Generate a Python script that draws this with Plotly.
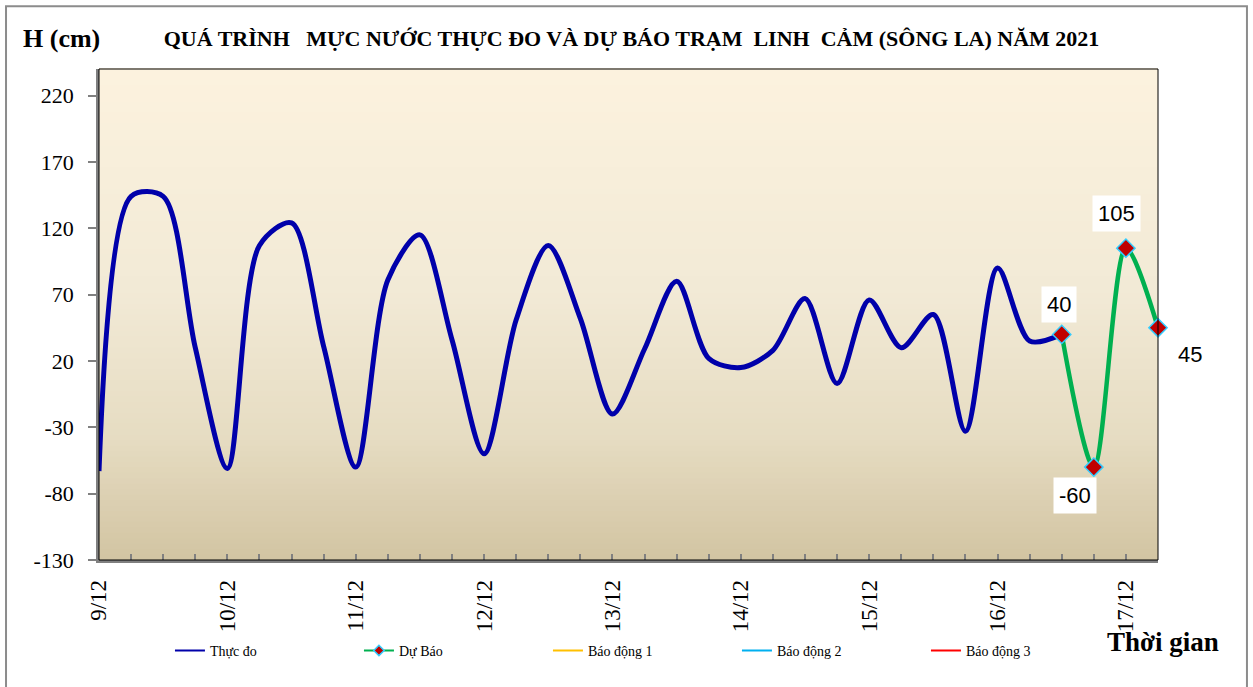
import plotly.graph_objects as go

# ---- data (hours since 9/12 00:00) ----
obs_hours = [0, 6, 12, 18, 24, 30, 36, 42, 48, 54, 60, 66, 72, 78, 84, 90, 96, 102, 108,
             114, 120, 126, 132, 138, 144, 150, 156, 162, 168, 174, 180]
obs_values = [-63, 144, 144, 30, -61, 107, 124, 31, -60, 81, 115, 36, -50, 51, 107, 52, -20, 29, 80,
              22, 15, 28, 67, 3, 66, 30, 55, -33, 90, 35, 40]
fc_hours = [180, 186, 192, 198]
fc_values = [40, -60, 105, 45]
fc_label_shift = [(-3, 30), (-19, -28), (-9, 35), (32, -27)]
day_ticks = [0, 24, 48, 72, 96, 120, 144, 168, 192]
day_labels = ["9/12", "10/12", "11/12", "12/12", "13/12", "14/12", "15/12", "16/12", "17/12"]
y_ticks = [-130, -80, -30, 20, 70, 120, 170, 220]
y_labels = ["-130", "-80", "-30", "20", "70", "120", "170", "220"]

SERIF = "Liberation Serif, Times New Roman, serif"
SANS = "Liberation Sans, Arial, sans-serif"
SMOOTH = 0.85

fig = go.Figure()
fig.add_trace(go.Scatter(x=obs_hours, y=obs_values, mode="lines", name="Thực đo", showlegend=False,
                         line=dict(color="#0000AA", width=5, shape="spline", smoothing=SMOOTH),
                         cliponaxis=False))
fig.add_trace(go.Scatter(x=fc_hours, y=fc_values, mode="lines+markers", name="Dự Báo", showlegend=False,
                         line=dict(color="#00B050", width=4.5, shape="spline", smoothing=SMOOTH),
                         marker=dict(symbol="diamond", size=14, color="#C00000",
                                     line=dict(color="#33CCFF", width=1.5)),
                         cliponaxis=False))
# legend entries (thin lines as in the original legend)
fig.add_trace(go.Scatter(x=[None], y=[None], mode="lines", name="Thực đo",
                         line=dict(color="#0000AA", width=2)))
fig.add_trace(go.Scatter(x=[None], y=[None], mode="lines+markers", name="Dự Báo",
                         line=dict(color="#00B050", width=2),
                         marker=dict(symbol="diamond", size=8, color="#C00000",
                                     line=dict(color="#33CCFF", width=1.5))))
for nm, col in [("Báo động 1", "#FFC000"), ("Báo động 2", "#00B0F0"), ("Báo động 3", "#FF0000")]:
    fig.add_trace(go.Scatter(x=[None], y=[None], mode="lines", name=nm,
                             line=dict(color=col, width=2)))

# gradient background bands
shapes = []
stops = [(0.0, (210, 196, 162)), (0.25, (230, 220, 194)), (0.55, (242, 234, 214)), (1.0, (252, 242, 222))]
def col_at(t):
    for (t0, c0), (t1, c1) in zip(stops[:-1], stops[1:]):
        if t0 <= t <= t1:
            f = (t - t0) / (t1 - t0)
            return "rgb(%d,%d,%d)" % tuple(round(a + (b - a) * f) for a, b in zip(c0, c1))
    return "rgb(%d,%d,%d)" % stops[-1][1]
N = 90
for i in range(N):
    shapes.append(dict(type="rect", xref="x domain", yref="y domain", x0=0, x1=1,
                       y0=i / N, y1=(i + 1) / N + 0.002, fillcolor=col_at((i + 0.5) / N),
                       line=dict(width=0), layer="below"))
# plot frame
shapes.append(dict(type="rect", xref="x domain", yref="y domain", x0=0, x1=1, y0=0, y1=1,
                   line=dict(color="black", width=1), layer="above"))
# outer border
shapes.append(dict(type="rect", xref="paper", yref="paper", x0=-0.0878, x1=1.084, y0=-0.262, y1=1.128,
                   line=dict(color="#8C8C8C", width=2)))

annotations = [
    dict(text="<b>H (cm)</b>", xref="paper", yref="paper", x=-0.035, y=1.063, showarrow=False,
         font=dict(family=SERIF, size=26, color="black"), xanchor="center", yanchor="middle"),
    dict(text="<b>Thời gian</b>", xref="paper", yref="paper", x=1.005, y=-0.167, showarrow=False,
         font=dict(family=SERIF, size=27, color="black"), xanchor="center", yanchor="middle"),
]
for h, v, (dx, dy) in zip(fc_hours, fc_values, fc_label_shift):
    annotations.append(dict(text=str(v), x=h, y=v, xref="x", yref="y", showarrow=False,
                            xshift=dx, yshift=dy, bgcolor="white", borderpad=5,
                            font=dict(family=SANS, size=22, color="black")))

title_txt = ("<b>QUÁ TRÌNH&nbsp;&nbsp; MỰC NƯỚC THỰC ĐO VÀ DỰ BÁO TRẠM&nbsp; LINH&nbsp; "
             "CẢM (SÔNG LA) NĂM 2021</b>")

fig.update_layout(
    width=1253, height=687,
    margin=dict(l=99, r=95, t=69, b=127),
    paper_bgcolor="white", plot_bgcolor="white",
    title=dict(text=title_txt, x=0.504, y=1 - 38 / 687, xanchor="center", yanchor="middle",
               font=dict(family=SERIF, size=22, color="black")),
    shapes=shapes, annotations=annotations,
    showlegend=True,
    legend=dict(orientation="h", x=0.067, y=-0.185, xanchor="left", yanchor="middle",
                font=dict(family=SERIF, size=14, color="black"), entrywidth=144,
                bgcolor="rgba(0,0,0,0)"),
)
fig.update_xaxes(range=[0, 198], tickvals=day_ticks, ticktext=day_labels, tickangle=-90,
                 ticks="inside", ticklen=6, tickcolor="#808080", tickwidth=1.5,
                 minor=dict(dtick=6, tick0=0, ticks="inside", ticklen=6, tickcolor="#808080", tickwidth=1.5),
                 showline=True, linecolor="#808080", linewidth=2.5, showgrid=False, zeroline=False,
                 tickfont=dict(family=SERIF, size=23, color="black"), ticklabelstandoff=8)
fig.update_yaxes(range=[-130, 240], tickvals=y_ticks, ticktext=y_labels, ticks="outside", ticklen=8,
                 tickcolor="#808080", tickwidth=1.5, showline=True, linecolor="#808080", linewidth=2.5,
                 showgrid=False, zeroline=False,
                 tickfont=dict(family=SERIF, size=22, color="black"), ticklabelstandoff=10)

fig.write_html("out.html", config={"displayModeBar": False},
               post_script="document.body.style.margin='0';")
